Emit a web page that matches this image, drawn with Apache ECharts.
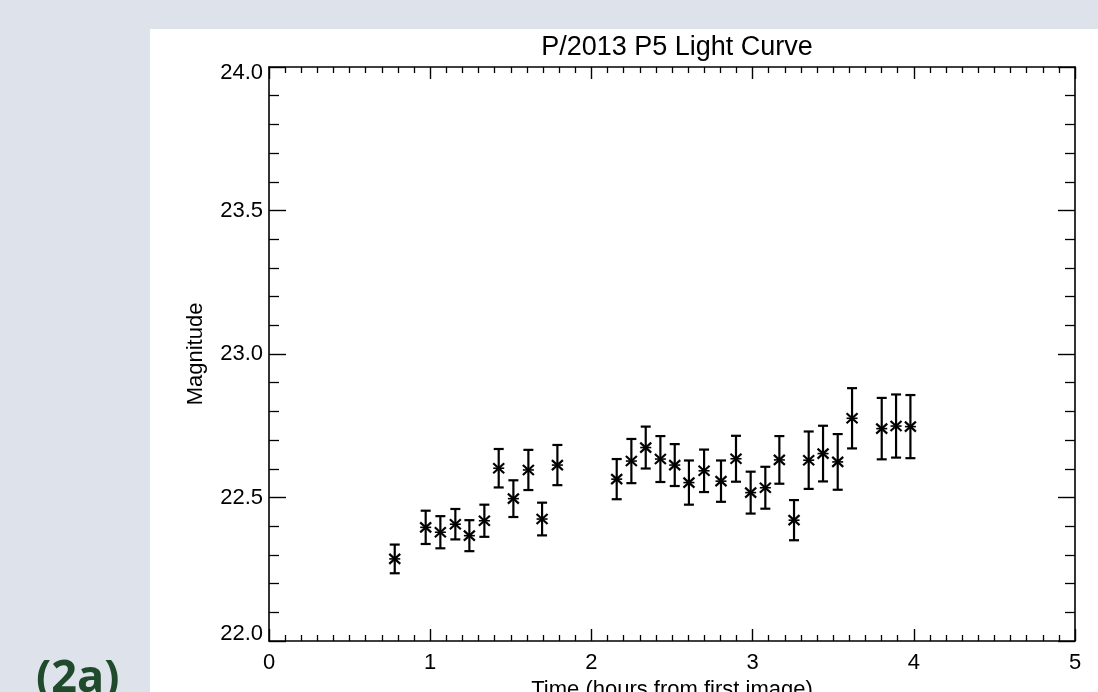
<!DOCTYPE html>
<html>
<head>
<meta charset="utf-8">
<script src="https://cdn.jsdelivr.net/npm/echarts@6/dist/echarts.min.js"></script>
<style>
  html, body { margin: 0; padding: 0; background: #dee3eb; }
  #wrap { position: relative; width: 1098px; height: 692px; overflow: hidden; }
  #panel { position: absolute; left: 150px; top: 29px; width: 948px; height: 663px; background: #ffffff; }
  #chart { position: absolute; left: 0; top: 0; width: 1098px; height: 692px; }
</style>
</head>
<body>
<div id="wrap">
  <div id="panel"></div>
  <div id="chart"></div>
</div>
<script>
// Data
const times = [0.780, 0.972, 1.063, 1.156, 1.243, 1.336, 1.425, 1.516, 1.609, 1.694, 1.789,
               2.157, 2.248, 2.337, 2.428, 2.517, 2.605, 2.699, 2.804, 2.897, 2.988, 3.079,
               3.166, 3.257, 3.348, 3.437, 3.528, 3.617, 3.801, 3.890, 3.979];
const magnitudes = [22.286, 22.396, 22.379, 22.407, 22.367, 22.419, 22.602, 22.496, 22.596, 22.425, 22.613,
                    22.564, 22.627, 22.674, 22.634, 22.613, 22.552, 22.593, 22.557, 22.635, 22.517, 22.534,
                    22.631, 22.421, 22.630, 22.653, 22.624, 22.776, 22.740, 22.749, 22.747];
const errors = [0.050, 0.058, 0.056, 0.053, 0.054, 0.056, 0.067, 0.064, 0.070, 0.057, 0.070,
                0.070, 0.077, 0.073, 0.080, 0.073, 0.077, 0.074, 0.072, 0.080, 0.073, 0.073,
                0.083, 0.070, 0.100, 0.097, 0.097, 0.105, 0.107, 0.110, 0.110];
const xTicks = [0, 1, 2, 3, 4, 5];
const yTicks = [22.0, 22.5, 23.0, 23.5, 24.0];
const titleText = 'P/2013 P5 Light Curve';
const xName = 'Time (hours from first image)';
const yName = 'Magnitude';
const panelLabel = '(2a)';

const seriesData = times.map((t, i) => [t, magnitudes[i], errors[i]]);
const FONT = "'Liberation Sans', Arial, Helvetica, sans-serif";

const chart = echarts.init(document.getElementById('chart'), null, { renderer: 'canvas' });

function xAxisDef(pos, showLabel) {
  return {
    type: 'value', position: pos,
    min: xTicks[0], max: xTicks[xTicks.length - 1], interval: 1,
    name: showLabel ? xName : '', nameLocation: 'middle', nameGap: 38,
    nameTextStyle: { fontFamily: FONT, fontSize: 22, color: '#000' },
    axisLine: { show: true, onZero: false, lineStyle: { color: '#000', width: 1.6 } },
    axisTick: { show: true, inside: true, length: 12, lineStyle: { color: '#000', width: 1.4 } },
    minorTick: { show: true, splitNumber: 10, length: 6, lineStyle: { color: '#000', width: 1.3 } },
    axisLabel: { show: showLabel, fontFamily: FONT, fontSize: 22, color: '#000', margin: 11 },
    splitLine: { show: false }, minorSplitLine: { show: false }
  };
}
const yMin = yTicks[0], yMax = yTicks[yTicks.length - 1];
function yAxisDef(pos, showLabel) {
  return {
    type: 'value', position: pos,
    min: yMin, max: yMax, interval: 0.5,
    name: showLabel ? yName : '', nameLocation: 'middle', nameGap: 62, nameRotate: 90,
    nameTextStyle: { fontFamily: FONT, fontSize: 22, color: '#000' },
    axisLine: { show: true, onZero: false, lineStyle: { color: '#000', width: 1.6 } },
    axisTick: { show: true, inside: true, length: 17, lineStyle: { color: '#000', width: 1.4 } },
    minorTick: { show: true, splitNumber: 5, length: 10, lineStyle: { color: '#000', width: 1.3 } },
    axisLabel: {
      show: showLabel, fontFamily: FONT, fontSize: 22, color: '#000', margin: 6,
      formatter: v => {
        const s = v.toFixed(1);
        if (Math.abs(v - yMin) < 1e-9) return '{lo|' + s + '}';
        if (Math.abs(v - yMax) < 1e-9) return '{hi|' + s + '}';
        return s;
      },
      rich: {
        lo: { fontFamily: FONT, fontSize: 22, color: '#000', padding: [0, 0, 14, 0] },
        hi: { fontFamily: FONT, fontSize: 22, color: '#000', padding: [12, 0, 0, 0] }
      }
    },
    splitLine: { show: false }, minorSplitLine: { show: false }
  };
}

const option = {
  backgroundColor: 'transparent',
  animation: false,
  title: {
    text: titleText, left: 672, top: 29, textAlign: 'center',
    textStyle: { fontFamily: FONT, fontSize: 27, fontWeight: 'normal', color: '#000' }
  },
  grid: { left: 269, top: 67, right: 23, bottom: 51, containLabel: false, outerBoundsMode: 'none' },
  xAxis: [xAxisDef('bottom', true), xAxisDef('top', false)],
  yAxis: [yAxisDef('left', true), yAxisDef('right', false)],
  graphic: [{
    type: 'text', left: 36, top: 657, z: 100,
    style: { text: panelLabel, fontFamily: "'Open Sans', 'DejaVu Sans', sans-serif",
             fontWeight: 'bold', fontSize: 45, fill: '#1f4a2b' }
  }],
  series: [{
    type: 'custom',
    xAxisIndex: 0, yAxisIndex: 0,
    data: seriesData,
    renderItem: function (params, api) {
      const x = api.value(0), y = api.value(1), e = api.value(2);
      const c = api.coord([x, y]);
      const hi = api.coord([x, y + e]);
      const lo = api.coord([x, y - e]);
      const cap = 5, rx = 5.5, ry = 5;
      const st = { stroke: '#000', lineWidth: 2.2 };
      return {
        type: 'group',
        children: [
          { type: 'line', shape: { x1: c[0], y1: hi[1], x2: c[0], y2: lo[1] }, style: st },
          { type: 'line', shape: { x1: c[0] - cap, y1: hi[1], x2: c[0] + cap, y2: hi[1] }, style: st },
          { type: 'line', shape: { x1: c[0] - cap, y1: lo[1], x2: c[0] + cap, y2: lo[1] }, style: st },
          { type: 'line', shape: { x1: c[0] - rx, y1: c[1] - ry, x2: c[0] + rx, y2: c[1] + ry }, style: st },
          { type: 'line', shape: { x1: c[0] - rx, y1: c[1] + ry, x2: c[0] + rx, y2: c[1] - ry }, style: st },
          { type: 'line', shape: { x1: c[0] - rx, y1: c[1], x2: c[0] + rx, y2: c[1] }, style: { stroke: '#000', lineWidth: 1.6 } }
        ]
      };
    }
  }]
};
chart.setOption(option);
</script>
</body>
</html>
